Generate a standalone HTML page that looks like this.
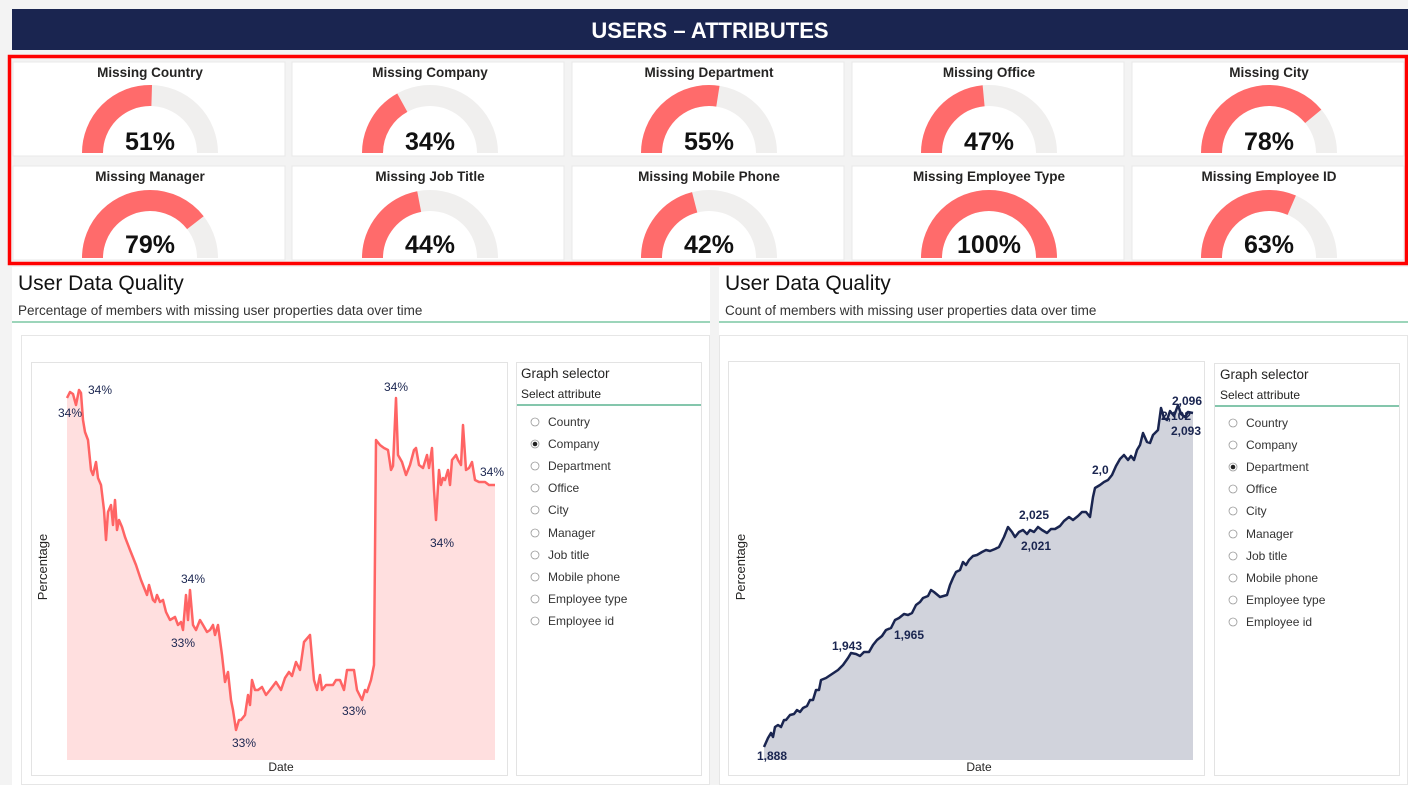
<!DOCTYPE html>
<html><head><meta charset="utf-8"><style>
html,body{margin:0;padding:0;background:#f3f3f3;}
svg{display:block;font-family:"Liberation Sans","DejaVu Sans",sans-serif;}
</style></head><body>
<svg width="1408" height="785" viewBox="0 0 1408 785" xmlns="http://www.w3.org/2000/svg">
<rect x="0" y="0" width="1408" height="785" fill="#f3f3f3"/>
<rect x="12" y="9" width="1396" height="41" fill="#1a2550"/>
<text x="710" y="38" text-anchor="middle" fill="#fff" font-size="22" font-weight="bold">USERS – ATTRIBUTES</text>
<rect x="10" y="57" width="1397" height="206" fill="#f3f3f3"/>
<g fill="#fff" stroke="#e8e8e8">
<rect x="13" y="62" width="272" height="94"/><rect x="292" y="62" width="272" height="94"/><rect x="572" y="62" width="272" height="94"/><rect x="852" y="62" width="272" height="94"/><rect x="1132" y="62" width="272" height="94"/>
<rect x="13" y="166" width="272" height="94"/><rect x="292" y="166" width="272" height="94"/><rect x="572" y="166" width="272" height="94"/><rect x="852" y="166" width="272" height="94"/><rect x="1132" y="166" width="272" height="94"/>
</g>
<defs>
<clipPath id="c1"><rect x="0" y="62" width="1408" height="94"/></clipPath>
<clipPath id="c2"><rect x="0" y="166" width="1408" height="94"/></clipPath>
</defs>
<g fill="none" stroke-width="21" clip-path="url(#c1)">
<g stroke="#f0efee">
<path d="M92.5 153 A57.5 57.5 0 0 1 207.5 153"/><path d="M372.5 153 A57.5 57.5 0 0 1 487.5 153"/><path d="M651.5 153 A57.5 57.5 0 0 1 766.5 153"/><path d="M931.5 153 A57.5 57.5 0 0 1 1046.5 153"/><path d="M1211.5 153 A57.5 57.5 0 0 1 1326.5 153"/>
</g>
<g stroke="#ff6b6b">
<path pathLength="100" stroke-dasharray="51 200" d="M92.5 153 A57.5 57.5 0 0 1 207.5 153"/>
<path pathLength="100" stroke-dasharray="34 200" d="M372.5 153 A57.5 57.5 0 0 1 487.5 153"/>
<path pathLength="100" stroke-dasharray="55 200" d="M651.5 153 A57.5 57.5 0 0 1 766.5 153"/>
<path pathLength="100" stroke-dasharray="47 200" d="M931.5 153 A57.5 57.5 0 0 1 1046.5 153"/>
<path pathLength="100" stroke-dasharray="78 200" d="M1211.5 153 A57.5 57.5 0 0 1 1326.5 153"/>
</g></g>
<g fill="none" stroke-width="21" clip-path="url(#c2)">
<g stroke="#f0efee">
<path d="M92.5 258 A57.5 57.5 0 0 1 207.5 258"/><path d="M372.5 258 A57.5 57.5 0 0 1 487.5 258"/><path d="M651.5 258 A57.5 57.5 0 0 1 766.5 258"/><path d="M931.5 258 A57.5 57.5 0 0 1 1046.5 258"/><path d="M1211.5 258 A57.5 57.5 0 0 1 1326.5 258"/>
</g>
<g stroke="#ff6b6b">
<path pathLength="100" stroke-dasharray="79 200" d="M92.5 258 A57.5 57.5 0 0 1 207.5 258"/>
<path pathLength="100" stroke-dasharray="44 200" d="M372.5 258 A57.5 57.5 0 0 1 487.5 258"/>
<path pathLength="100" stroke-dasharray="42 200" d="M651.5 258 A57.5 57.5 0 0 1 766.5 258"/>
<path pathLength="100" stroke-dasharray="100 200" d="M931.5 258 A57.5 57.5 0 0 1 1046.5 258"/>
<path pathLength="100" stroke-dasharray="63 200" d="M1211.5 258 A57.5 57.5 0 0 1 1326.5 258"/>
</g></g>
<g font-size="13.5" font-weight="bold" fill="#252423" text-anchor="middle">
<text x="150" y="77">Missing Country</text><text x="430" y="77">Missing Company</text><text x="709" y="77">Missing Department</text><text x="989" y="77">Missing Office</text><text x="1269" y="77">Missing City</text>
<text x="150" y="181">Missing Manager</text><text x="430" y="181">Missing Job Title</text><text x="709" y="181">Missing Mobile Phone</text><text x="989" y="181">Missing Employee Type</text><text x="1269" y="181">Missing Employee ID</text>
</g>
<g font-size="25" font-weight="bold" fill="#111" text-anchor="middle">
<text x="150" y="150">51%</text><text x="430" y="150">34%</text><text x="709" y="150">55%</text><text x="989" y="150">47%</text><text x="1269" y="150">78%</text>
<text x="150" y="253">79%</text><text x="430" y="253">44%</text><text x="709" y="253">42%</text><text x="989" y="253">100%</text><text x="1269" y="253">63%</text>
</g>
<rect x="9.5" y="56.5" width="1397" height="207" fill="none" stroke="#ff0000" stroke-width="3.5"/>

<!-- left panel -->
<rect x="12" y="267" width="698" height="518" fill="#fff"/>
<text x="18" y="290" font-size="21" fill="#111">User Data Quality</text>
<text x="18" y="315" font-size="13.5" fill="#333">Percentage of members with missing user properties data over time</text>
<line x1="12" y1="322" x2="710" y2="322" stroke="#7cc7a4" stroke-width="1.5"/>
<rect x="21.5" y="335.5" width="688" height="449" fill="#fff" stroke="#e6e6e6"/>
<rect x="31.5" y="362.5" width="476" height="413" fill="#fff" stroke="#e3e3e3"/>
<polygon fill="#ffdfdf" points="67,760 67,398 70,392 73,394 76,405 79,390 81,393 83,420 85,432 88,440 91,470 93,475 96,462 98,478 101,485 104,510 106,540 108,512 111,505 113,525 115,500 117,530 119,520 122,527 125,537 130,550 136,565 141,580 147,595 149,585 153,600 155,602 157,595 160,602 163,600 166,612 170,620 175,617 178,625 181,622 183,630 186,595 188,620 190,590 193,625 196,630 200,620 203,625 207,632 210,630 213,625 215,635 218,625 222,655 225,682 228,672 231,700 233,710 236,730 239,720 241,720 245,715 248,695 250,705 252,680 255,690 258,690 262,687 266,695 270,690 276,682 281,690 285,678 289,672 292,676 296,662 300,670 304,642 310,635 314,680 317,690 320,675 322,690 326,685 333,685 336,680 340,680 344,690 347,670 354,670 357,690 362,700 365,690 367,692 371,680 374,665 376,440 380,445 384,448 388,450 391,470 393,466 396,398 398,455 402,462 406,475 410,465 414,450 416,448 419,465 423,468 427,455 429,468 432,448 434,490 436,520 439,470 441,485 443,478 445,480 448,470 450,485 452,460 456,455 458,460 461,465 463,425 466,470 469,468 472,462 475,480 479,482 485,482 489,485 495,485 495,760"/>
<polyline fill="none" stroke="#ff6464" stroke-width="2.5" stroke-linejoin="round" points="67,398 70,392 73,394 76,405 79,390 81,393 83,420 85,432 88,440 91,470 93,475 96,462 98,478 101,485 104,510 106,540 108,512 111,505 113,525 115,500 117,530 119,520 122,527 125,537 130,550 136,565 141,580 147,595 149,585 153,600 155,602 157,595 160,602 163,600 166,612 170,620 175,617 178,625 181,622 183,630 186,595 188,620 190,590 193,625 196,630 200,620 203,625 207,632 210,630 213,625 215,635 218,625 222,655 225,682 228,672 231,700 233,710 236,730 239,720 241,720 245,715 248,695 250,705 252,680 255,690 258,690 262,687 266,695 270,690 276,682 281,690 285,678 289,672 292,676 296,662 300,670 304,642 310,635 314,680 317,690 320,675 322,690 326,685 333,685 336,680 340,680 344,690 347,670 354,670 357,690 362,700 365,690 367,692 371,680 374,665 376,440 380,445 384,448 388,450 391,470 393,466 396,398 398,455 402,462 406,475 410,465 414,450 416,448 419,465 423,468 427,455 429,468 432,448 434,490 436,520 439,470 441,485 443,478 445,480 448,470 450,485 452,460 456,455 458,460 461,465 463,425 466,470 469,468 472,462 475,480 479,482 485,482 489,485 495,485"/>
<g font-size="12" fill="#1a2550">
<text x="58" y="417">34%</text><text x="88" y="394">34%</text><text x="181" y="583">34%</text><text x="384" y="391">34%</text><text x="430" y="547">34%</text><text x="480" y="476">34%</text>
<text x="171" y="647">33%</text><text x="232" y="747">33%</text><text x="342" y="715">33%</text>
</g>
<text x="281" y="771" font-size="12" fill="#252423" text-anchor="middle">Date</text>
<text transform="translate(47,567) rotate(-90)" font-size="13" fill="#252423" text-anchor="middle">Percentage</text>
<rect x="516.5" y="362.5" width="185" height="413" fill="#fff" stroke="#e3e3e3"/>
<text x="521" y="378" font-size="13.5" fill="#252423">Graph selector</text>
<text x="521" y="398" font-size="12" fill="#252423">Select attribute</text>
<line x1="517" y1="405" x2="701" y2="405" stroke="#3aa37a" stroke-width="1.2"/>
<g fill="#fff" stroke="#999" stroke-width="0.8">
<circle cx="535" cy="422" r="4"/><circle cx="535" cy="444" r="4"/><circle cx="535" cy="466" r="4"/><circle cx="535" cy="488" r="4"/><circle cx="535" cy="510" r="4"/><circle cx="535" cy="533" r="4"/><circle cx="535" cy="555" r="4"/><circle cx="535" cy="577" r="4"/><circle cx="535" cy="599" r="4"/><circle cx="535" cy="621" r="4"/>
</g>
<circle cx="535" cy="444" r="2.3" fill="#222"/>
<g font-size="12" fill="#333">
<text x="548" y="426">Country</text><text x="548" y="448">Company</text><text x="548" y="470">Department</text><text x="548" y="492">Office</text><text x="548" y="514">City</text><text x="548" y="537">Manager</text><text x="548" y="559">Job title</text><text x="548" y="581">Mobile phone</text><text x="548" y="603">Employee type</text><text x="548" y="625">Employee id</text>
</g>

<!-- right panel -->
<rect x="719" y="267" width="689" height="518" fill="#fff"/>
<text x="725" y="290" font-size="21" fill="#111">User Data Quality</text>
<text x="725" y="315" font-size="13.5" fill="#333">Count of members with missing user properties data over time</text>
<line x1="719" y1="322" x2="1408" y2="322" stroke="#7cc7a4" stroke-width="1.5"/>
<rect x="719.5" y="335.5" width="688" height="449" fill="#fff" stroke="#e6e6e6"/>
<rect x="728.5" y="361.5" width="476" height="414" fill="#fff" stroke="#e3e3e3"/>
<polygon fill="#d1d3dc" points="764,760 764,747 768,738 771,733 773,737 775,727 778,725 781,727 784,720 786,720 790,715 794,714 797,710 800,712 803,708 807,706 810,700 813,700 816,690 819,690 821,680 826,678 832,674 838,670 843,665 848,658 851,653 856,654 860,656 864,652 869,652 873,645 877,640 882,636 886,630 891,628 895,620 899,618 904,614 908,615 912,613 916,605 920,602 923,598 928,596 931,590 934,592 940,597 947,595 950,585 953,578 956,572 960,570 963,562 966,565 969,560 973,556 977,555 982,552 986,550 990,551 995,549 999,547 1004,537 1008,527 1012,532 1015,537 1019,532 1023,530 1027,534 1030,530 1034,532 1038,527 1042,530 1047,533 1051,529 1055,529 1060,526 1064,521 1069,517 1073,520 1078,516 1082,512 1086,512 1090,517 1093,497 1095,488 1100,485 1104,482 1108,480 1112,475 1116,466 1120,459 1124,455 1128,460 1131,456 1134,460 1137,450 1140,445 1143,433 1147,442 1150,443 1153,435 1158,430 1161,408 1164,418 1167,420 1170,411 1174,416 1178,405 1181,414 1185,417 1188,412 1193,413 1193,760"/>
<polyline fill="none" stroke="#1a2550" stroke-width="2.5" stroke-linejoin="round" points="764,747 768,738 771,733 773,737 775,727 778,725 781,727 784,720 786,720 790,715 794,714 797,710 800,712 803,708 807,706 810,700 813,700 816,690 819,690 821,680 826,678 832,674 838,670 843,665 848,658 851,653 856,654 860,656 864,652 869,652 873,645 877,640 882,636 886,630 891,628 895,620 899,618 904,614 908,615 912,613 916,605 920,602 923,598 928,596 931,590 934,592 940,597 947,595 950,585 953,578 956,572 960,570 963,562 966,565 969,560 973,556 977,555 982,552 986,550 990,551 995,549 999,547 1004,537 1008,527 1012,532 1015,537 1019,532 1023,530 1027,534 1030,530 1034,532 1038,527 1042,530 1047,533 1051,529 1055,529 1060,526 1064,521 1069,517 1073,520 1078,516 1082,512 1086,512 1090,517 1093,497 1095,488 1100,485 1104,482 1108,480 1112,475 1116,466 1120,459 1124,455 1128,460 1131,456 1134,460 1137,450 1140,445 1143,433 1147,442 1150,443 1153,435 1158,430 1161,408 1164,418 1167,420 1170,411 1174,416 1178,405 1181,414 1185,417 1188,412 1193,413"/>
<g font-size="12" font-weight="bold" fill="#1a2550">
<text x="757" y="760">1,888</text><text x="832" y="650">1,943</text><text x="894" y="639">1,965</text><text x="1019" y="519">2,025</text><text x="1021" y="550">2,021</text><text x="1092" y="474">2,0</text><text x="1172" y="405">2,096</text><text x="1161" y="420">2,102</text><text x="1171" y="435">2,093</text>
</g>
<text x="979" y="771" font-size="12" fill="#252423" text-anchor="middle">Date</text>
<text transform="translate(745,567) rotate(-90)" font-size="13" fill="#252423" text-anchor="middle">Percentage</text>
<rect x="1214.5" y="363.5" width="185" height="412" fill="#fff" stroke="#e3e3e3"/>
<text x="1220" y="379" font-size="13.5" fill="#252423">Graph selector</text>
<text x="1220" y="399" font-size="12" fill="#252423">Select attribute</text>
<line x1="1215" y1="406" x2="1399" y2="406" stroke="#3aa37a" stroke-width="1.2"/>
<g fill="#fff" stroke="#999" stroke-width="0.8">
<circle cx="1233" cy="423" r="4"/><circle cx="1233" cy="445" r="4"/><circle cx="1233" cy="467" r="4"/><circle cx="1233" cy="489" r="4"/><circle cx="1233" cy="511" r="4"/><circle cx="1233" cy="534" r="4"/><circle cx="1233" cy="556" r="4"/><circle cx="1233" cy="578" r="4"/><circle cx="1233" cy="600" r="4"/><circle cx="1233" cy="622" r="4"/>
</g>
<circle cx="1233" cy="467" r="2.3" fill="#222"/>
<g font-size="12" fill="#333">
<text x="1246" y="427">Country</text><text x="1246" y="449">Company</text><text x="1246" y="471">Department</text><text x="1246" y="493">Office</text><text x="1246" y="515">City</text><text x="1246" y="538">Manager</text><text x="1246" y="560">Job title</text><text x="1246" y="582">Mobile phone</text><text x="1246" y="604">Employee type</text><text x="1246" y="626">Employee id</text>
</g>
</svg>
</body></html>
